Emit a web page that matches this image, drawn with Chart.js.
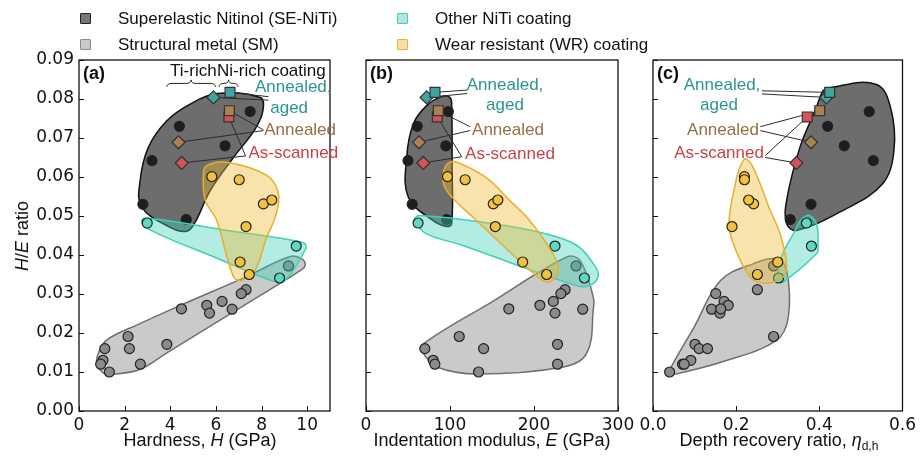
<!DOCTYPE html>
<html>
<head>
<meta charset="utf-8">
<script src="https://cdn.jsdelivr.net/npm/chart.js@4.4.0/dist/chart.umd.min.js"></script>
<style>
  html, body { margin: 0; padding: 0; background: #fff; }
  #wrap { position: relative; width: 920px; height: 461px; overflow: hidden;
          font-family: "Liberation Sans", Arial, sans-serif; color: #111; }
  #wrap canvas { position: absolute; left: 0; top: 0; }
  .key { position: absolute; font-size: 17px; line-height: 20px; white-space: nowrap; padding-left: 38px; }
  .key .sw { position: absolute; left: 0; top: 4px; width: 9px; height: 9px; border: 1.5px solid; border-radius: 1px; }
  .title { position: absolute; font-size: 18px; line-height: 20px; white-space: nowrap; transform: translateX(-50%); }
  .ytitle { position: absolute; font-size: 18px; line-height: 20px; white-space: nowrap;
            left: 22px; top: 236px; transform: translate(-50%, -50%) rotate(-90deg); }
  sub { font-size: 12px; vertical-align: -4px; line-height: 0; }
</style>
</head>
<body>
<div id="wrap">
  <canvas id="panelA" width="920" height="461"></canvas>
  <canvas id="panelB" width="920" height="461"></canvas>
  <canvas id="panelC" width="920" height="461"></canvas>

  <div class="key" style="left:80px; top:9px;"><span class="sw" style="background:#777; border-color:#222;"></span>Superelastic Nitinol (SE-NiTi)</div>
  <div class="key" style="left:80px; top:35px;"><span class="sw" style="background:#c9c9c9; border-color:#8a8a8a;"></span>Structural metal (SM)</div>
  <div class="key" style="left:397px; top:9px;"><span class="sw" style="background:#aee8de; border-color:#45cdb6;"></span>Other NiTi coating</div>
  <div class="key" style="left:397px; top:35px;"><span class="sw" style="background:#f8dfa6; border-color:#e9b23a;"></span>Wear resistant (WR) coating</div>

  <div class="ytitle"><i>H</i>/<i>E</i> ratio</div>
  <div class="title" style="left:200px; top:430px;">Hardness, <i>H</i> (GPa)</div>
  <div class="title" style="left:492px; top:430px;">Indentation modulus, <i>E</i> (GPa)</div>
  <div class="title" style="left:779px; top:430px;">Depth recovery ratio, <i>η</i><sub>d,h</sub></div>
</div>

<script>
// coating conditions, in drawing order
const conditions = ['As-scanned', 'Annealed', 'Annealed, aged'];

// Superelastic Nitinol (SE-NiTi)
const seHardness = [7.5, 4.4, 6.4, 3.2, 2.8, 4.7];
const seModulus  = [98, 61, 95, 50, 55, 96];
const seRecovery = [0.52, 0.42, 0.46, 0.53, 0.38, 0.33];
const seRatio    = [0.0768, 0.073, 0.068, 0.0642, 0.053, 0.0491];

// Structural metals (SM)
const smHardness = [9.18, 7.32, 7.11, 6.27, 5.6, 6.71, 5.72, 4.49, 2.15, 3.85, 1.13, 2.21, 1.05, 0.95, 2.69, 1.33];
const smModulus  = [250, 237, 232, 223, 207, 258, 225, 170, 111, 228, 70, 140, 80, 82, 228, 134];
const smRecovery = [0.29, 0.251, 0.151, 0.171, 0.181, 0.141, 0.161, 0.163, 0.29, 0.101, 0.111, 0.131, 0.091, 0.071, 0.075, 0.04];
const smRatio    = [0.0372, 0.0311, 0.0301, 0.0281, 0.0271, 0.0261, 0.0251, 0.0262, 0.0191, 0.0171, 0.016, 0.016, 0.013, 0.012, 0.012, 0.010];

// Other NiTi coatings
const otHardness = [2.99, 9.52, 8.79];
const otModulus  = [62, 225, 260];
const otRecovery = [0.369, 0.381, 0.302];
const otRatio    = [0.0482, 0.0423, 0.0341];

// Wear resistant (WR) coatings
const wrHardness = [5.82, 7.02, 8.08, 8.45, 7.32, 7.06, 7.46];
const wrModulus  = [97, 118, 151.5, 157, 154, 186.5, 215];
const wrRecovery = [0.22, 0.22, 0.242, 0.23, 0.19, 0.30, 0.251];
const wrRatio    = [0.0601, 0.0593, 0.0531, 0.0541, 0.0473, 0.0382, 0.035];

// printed NiTi coatings, one value per condition
const tiHardness = [4.5, 4.36, 5.89];
const tiModulus  = [68.2, 63.1, 72.2];
const tiRecovery = [0.345, 0.38, 0.417];
const tiRatio    = [0.0636, 0.0689, 0.0804];
const niHardness = [6.57, 6.59, 6.62];
const niModulus  = [84.9, 86.1, 82.1];
const niRecovery = [0.371, 0.401, 0.425];
const niRatio    = [0.0754, 0.077, 0.0817];

const ratioTicks = [0, 0.01, 0.02, 0.03, 0.04, 0.05, 0.06, 0.07, 0.08, 0.09];

const condFill = ['#d4535a', '#a88155', '#3fa39e'];
const condText = ['#c9404a', '#93703f', '#2a958f'];

const groupStyle = {
  SM:    { fill: 'rgba(128,128,128,0.42)', edge: '#6f6f6f', point: '#8a8a8a' },
  SE:    { fill: 'rgba(60,60,60,0.75)',    edge: '#111111', point: '#1e1e1e' },
  Other: { fill: 'rgba(64,208,184,0.40)',  edge: '#3fd0b6', point: '#5fd8c3' },
  WR:    { fill: 'rgba(240,184,48,0.40)',  edge: '#e8ae2e', point: '#f2c23e' }
};

// region outlines and annotation layout per panel (data units)
const panels = {
  panelA: {
    letter: '(a)',
    hulls: {
      SM: [[9.25,0.0396],[9.77,0.039],[9.91,0.0373],[9.69,0.036],[8.38,0.0312],[5.45,0.0207],[3.85,0.0149],[2.69,0.0107],[1.5,0.0094],[1.1,0.0096],[0.78,0.0122],[0.85,0.0148],[1.21,0.0182],[2.6,0.0222],[4.49,0.0272],[7.32,0.0344]],
      SE: [[6.04,0.0814],[7.94,0.0804],[8.06,0.077],[7.72,0.0723],[6.77,0.065],[5.75,0.0565],[5.09,0.0484],[4.72,0.0461],[3.99,0.0471],[2.75,0.0523],[2.68,0.0591],[3.04,0.0676],[3.85,0.0744],[4.87,0.0787]],
      Other: [[2.75,0.0488],[3.3,0.0492],[6.5,0.0463],[9.8,0.0432],[9.95,0.0418],[9.0,0.0333],[8.5,0.0333],[6.0,0.0393],[3.2,0.0462]],
      WR: [[5.6,0.0629],[6.48,0.0638],[8.23,0.0604],[8.74,0.0557],[8.6,0.0497],[8.23,0.0446],[7.72,0.0361],[7.14,0.0335],[6.77,0.0344],[6.04,0.0488],[5.53,0.054],[5.45,0.0608]]
    },
    notes: [
      { lines: [['As-scanned', 9.39, 0.066]], ti: [7.3, 0.0654], ni: [7.3, 0.0654] },
      { lines: [['Annealed', 9.69, 0.0719]], ti: [8.08, 0.0719], ni: [8.08, 0.0721] },
      { lines: [['Annealed,', 9.39, 0.0831], ['aged', 9.21, 0.0775]], ti: [8.3, 0.0797], ni: [8.3, 0.0806] }
    ],
    braces: [
      { text: 'Ti-rich', at: [3.99, 0.087], from: 3.85, to: 5.98, y: 0.0831 },
      { text: 'Ni-rich coating', at: [6.05, 0.087], from: 6.14, to: 6.97, y: 0.0831 }
    ]
  },
  panelB: {
    letter: '(b)',
    hulls: {
      SM: [[66.3,0.0169],[150,0.028],[239,0.0395],[254.8,0.0386],[270.6,0.0292],[270.6,0.0261],[262.7,0.0148],[235,0.0113],[131.8,0.0095],[84.2,0.0113],[68.2,0.0148]],
      SE: [[90,0.0806],[100,0.0804],[102,0.078],[102.5,0.063],[102,0.048],[96,0.0473],[80,0.0488],[50.4,0.0548],[48.4,0.065],[56.3,0.0736],[72.2,0.0783]],
      Other: [[64,0.0501],[151.6,0.048],[215,0.0454],[250.8,0.0425],[270.6,0.0378],[276.5,0.0348],[266.7,0.0322],[250,0.0322],[111.9,0.0427],[72.2,0.0454],[58.3,0.049]],
      WR: [[100,0.0638],[115,0.0632],[145,0.0595],[171,0.054],[195,0.0488],[222,0.0405],[229,0.0361],[219,0.0331],[207,0.0339],[131.8,0.0488],[96,0.0565],[92,0.0608]]
    },
    notes: [
      { lines: [['As-scanned', 171.4, 0.0657]], ti: [114, 0.0652], ni: [114, 0.0652] },
      { lines: [['Annealed', 169, 0.0719]], ti: [123.8, 0.0719], ni: [123.8, 0.0729] },
      { lines: [['Annealed,', 165.5, 0.0834], ['aged', 165.5, 0.0783]], ti: [120.6, 0.0814], ni: [120.6, 0.0823] }
    ],
    braces: []
  },
  panelC: {
    letter: '(c)',
    hulls: {
      SM: [[0.0357,0.0096],[0.0993,0.0216],[0.1629,0.0335],[0.2421,0.0378],[0.2976,0.039],[0.3214,0.0361],[0.3255,0.0241],[0.2976,0.0182],[0.1786,0.013],[0.0438,0.0092]],
      SE: [[0.4248,0.0829],[0.5357,0.0838],[0.5714,0.0778],[0.5795,0.0668],[0.5517,0.0582],[0.4564,0.0514],[0.3452,0.0463],[0.3214,0.048],[0.3214,0.054],[0.3533,0.0676],[0.3929,0.0778],[0.4088,0.0821]],
      Other: [[0.369,0.0501],[0.3929,0.048],[0.3969,0.042],[0.395,0.0405],[0.3136,0.0331],[0.3017,0.0335],[0.3057,0.0386],[0.3374,0.0454]],
      WR: [[0.2183,0.0644],[0.2383,0.063],[0.2819,0.0514],[0.3057,0.0454],[0.3214,0.0369],[0.305,0.0337],[0.25,0.0331],[0.2183,0.0369],[0.1905,0.0437],[0.1826,0.048],[0.1945,0.0565]]
    },
    notes: [
      { lines: [['As-scanned', 0.1588, 0.066]], ti: [0.27, 0.065], ni: [0.27, 0.0655] },
      { lines: [['Annealed', 0.1683, 0.0719]], ti: [0.258, 0.0719], ni: [0.258, 0.0729] },
      { lines: [['Annealed,', 0.166, 0.0834], ['aged', 0.1588, 0.0783]], ti: [0.262, 0.0813], ni: [0.262, 0.0821] }
    ],
    braces: []
  }
};

const pair = (xs, ys) => xs.map((x, i) => ({ x: x, y: ys[i] }));

function toPx(chart, p) {
  return { x: chart.scales.x.getPixelForValue(p[0]), y: chart.scales.y.getPixelForValue(p[1]) };
}

function unit(a, b) {
  const dx = b.x - a.x, dy = b.y - a.y, l = Math.hypot(dx, dy) || 1;
  return { x: dx / l, y: dy / l };
}

// smooth closed curve through the outline points; handle length follows each segment
function closedSpline(ctx, pts) {
  const n = pts.length, k = 0.36;
  ctx.beginPath();
  ctx.moveTo(pts[0].x, pts[0].y);
  for (let i = 0; i < n; i++) {
    const p0 = pts[(i + n - 1) % n], p1 = pts[i], p2 = pts[(i + 1) % n], p3 = pts[(i + 2) % n];
    const d1 = unit(p0, p2), d2 = unit(p1, p3);
    const len = Math.hypot(p2.x - p1.x, p2.y - p1.y) * k;
    ctx.bezierCurveTo(p1.x + d1.x * len, p1.y + d1.y * len,
                      p2.x - d2.x * len, p2.y - d2.y * len, p2.x, p2.y);
  }
  ctx.closePath();
}

function brace(ctx, x0, x1, yb, h) {
  const xm = (x0 + x1) / 2, r = Math.min(5, (x1 - x0) / 4);
  ctx.beginPath();
  ctx.moveTo(x0, yb);
  ctx.quadraticCurveTo(x0, yb - h / 2, x0 + r, yb - h / 2);
  ctx.lineTo(xm - r, yb - h / 2);
  ctx.quadraticCurveTo(xm, yb - h / 2, xm, yb - h);
  ctx.quadraticCurveTo(xm, yb - h / 2, xm + r, yb - h / 2);
  ctx.lineTo(x1 - r, yb - h / 2);
  ctx.quadraticCurveTo(x1, yb - h / 2, x1, yb);
  ctx.stroke();
}

const extras = {
  id: 'extras',
  beforeDatasetDraw(chart, args) {
    const spec = panels[chart.canvas.id];
    const ds = chart.data.datasets[args.index];
    const ctx = chart.ctx;
    const a = chart.chartArea;
    const outline = spec.hulls[ds.group];
    if (outline) {
      const st = groupStyle[ds.group];
      ctx.save();
      ctx.beginPath();
      ctx.rect(a.left, a.top, a.right - a.left, a.bottom - a.top);
      ctx.clip();
      closedSpline(ctx, outline.map(p => toPx(chart, p)));
      ctx.fillStyle = st.fill;
      ctx.fill();
      ctx.lineWidth = 1.5;
      ctx.lineJoin = 'round';
      ctx.strokeStyle = st.edge;
      ctx.stroke();
      ctx.restore();
    }
    if (ds.group === 'Ti') {
      // leader lines from each label to its two coating markers
      const ti = chart.data.datasets.find(d => d.group === 'Ti').data;
      const ni = chart.data.datasets.find(d => d.group === 'Ni').data;
      ctx.save();
      ctx.strokeStyle = '#2b2b2b';
      ctx.lineWidth = 1;
      spec.notes.forEach((note, c) => {
        [[note.ti, ti[c]], [note.ni, ni[c]]].forEach(([from, pt]) => {
          const p = toPx(chart, from), q = toPx(chart, [pt.x, pt.y]);
          ctx.beginPath();
          ctx.moveTo(p.x, p.y);
          ctx.lineTo(q.x, q.y);
          ctx.stroke();
        });
      });
      ctx.restore();
    }
  },
  afterDatasetsDraw(chart) {
    const spec = panels[chart.canvas.id];
    const ctx = chart.ctx;
    const a = chart.chartArea;
    ctx.save();
    // frame and inward ticks
    ctx.strokeStyle = '#111';
    ctx.lineWidth = 1.3;
    ctx.strokeRect(a.left, a.top, a.right - a.left, a.bottom - a.top);
    ctx.lineWidth = 1;
    ctx.beginPath();
    chart.scales.x.ticks.forEach(t => {
      const x = Math.round(chart.scales.x.getPixelForValue(t.value)) + 0.5;
      ctx.moveTo(x, a.bottom); ctx.lineTo(x, a.bottom - 5);
    });
    chart.scales.y.ticks.forEach(t => {
      const y = Math.round(chart.scales.y.getPixelForValue(t.value)) + 0.5;
      ctx.moveTo(a.left, y); ctx.lineTo(a.left + 5, y);
    });
    ctx.stroke();

    ctx.fillStyle = '#111';
    ctx.font = 'bold 18px "Liberation Sans", Arial, sans-serif';
    ctx.textBaseline = 'middle';
    ctx.textAlign = 'left';
    ctx.fillText(spec.letter, a.left + 4, a.top + 14);

    ctx.font = '17px "Liberation Sans", Arial, sans-serif';
    ctx.textAlign = 'center';
    spec.notes.forEach((note, c) => {
      ctx.fillStyle = condText[c];
      note.lines.forEach(([txt, x, y]) => {
        const p = toPx(chart, [x, y]);
        ctx.fillText(txt, p.x, p.y);
      });
    });

    ctx.fillStyle = '#111';
    ctx.strokeStyle = '#222';
    ctx.lineWidth = 1;
    ctx.textAlign = 'left';
    spec.braces.forEach(b => {
      const p = toPx(chart, b.at);
      ctx.fillText(b.text, p.x, p.y);
      const l = toPx(chart, [b.from, b.y]), r = toPx(chart, [b.to, b.y]);
      brace(ctx, l.x, r.x, l.y, 7);
    });
    ctx.restore();
  }
};

function datasetsFor(xSM, xSE, xOther, xWR, xTi, xNi) {
  const circle = (label, group, xs, ys, order) => ({
    label: label, group: group, order: order, data: pair(xs, ys),
    pointStyle: 'circle', pointRadius: 5, pointHoverRadius: 5, borderWidth: 1.2,
    backgroundColor: groupStyle[group].point, borderColor: '#222'
  });
  return [
    circle('Structural metal (SM)', 'SM', xSM, smRatio, 5),
    circle('Superelastic Nitinol (SE-NiTi)', 'SE', xSE, seRatio, 4),
    circle('Other NiTi coating', 'Other', xOther, otRatio, 3),
    circle('Wear resistant (WR) coating', 'WR', xWR, wrRatio, 2),
    { label: 'Ti-rich coating', group: 'Ti', order: 1, data: pair(xTi, tiRatio),
      pointStyle: 'rectRot', pointRadius: 6.5, pointHoverRadius: 6.5, borderWidth: 1.2,
      backgroundColor: condFill, borderColor: '#333' },
    { label: 'Ni-rich coating', group: 'Ni', order: 0, data: pair(xNi, niRatio),
      pointStyle: 'rect', pointRadius: 7, pointHoverRadius: 7, borderWidth: 1.2,
      backgroundColor: condFill, borderColor: '#333' }
  ];
}

const tickFont = { family: '"DejaVu Sans", sans-serif', size: 17 };

function makePanel(id, datasets, xMax, xStep, xFmt, pad, showY) {
  return new Chart(document.getElementById(id), {
    type: 'scatter',
    data: { datasets: datasets },
    options: {
      responsive: false,
      animation: false,
      events: [],
      layout: { padding: pad },
      plugins: { legend: { display: false }, tooltip: { enabled: false } },
      scales: {
        x: {
          type: 'linear', min: 0, max: xMax,
          grid: { display: false, drawTicks: false },
          border: { display: false },
          ticks: { stepSize: xStep, includeBounds: false, padding: 4, maxRotation: 0,
                   font: tickFont, color: '#111', callback: xFmt },
          afterFit: s => { s.height = 50; }
        },
        y: {
          type: 'linear', min: 0, max: 0.09, display: showY,
          grid: { display: false, drawTicks: false },
          border: { display: false },
          ticks: { stepSize: 0.01, padding: 5, font: tickFont, color: '#111',
                   callback: v => v.toFixed(2) },
          afterBuildTicks: s => { s.ticks = ratioTicks.map(v => ({ value: v })); },
          afterFit: s => { s.width = showY ? 79 : 0; }
        }
      }
    },
    plugins: [extras]
  });
}

makePanel('panelA',
  datasetsFor(smHardness, seHardness, otHardness, wrHardness, tiHardness, niHardness),
  11, 2, v => String(v), { left: 0, right: 590, top: 60, bottom: 0 }, true);

makePanel('panelB',
  datasetsFor(smModulus, seModulus, otModulus, wrModulus, tiModulus, niModulus),
  300, 100, v => String(v), { left: 366, right: 302, top: 60, bottom: 0 }, false);

makePanel('panelC',
  datasetsFor(smRecovery, seRecovery, otRecovery, wrRecovery, tiRecovery, niRecovery),
  0.6, 0.2, v => v.toFixed(1), { left: 653, right: 15, top: 60, bottom: 0 }, false);
</script>
</body>
</html>
